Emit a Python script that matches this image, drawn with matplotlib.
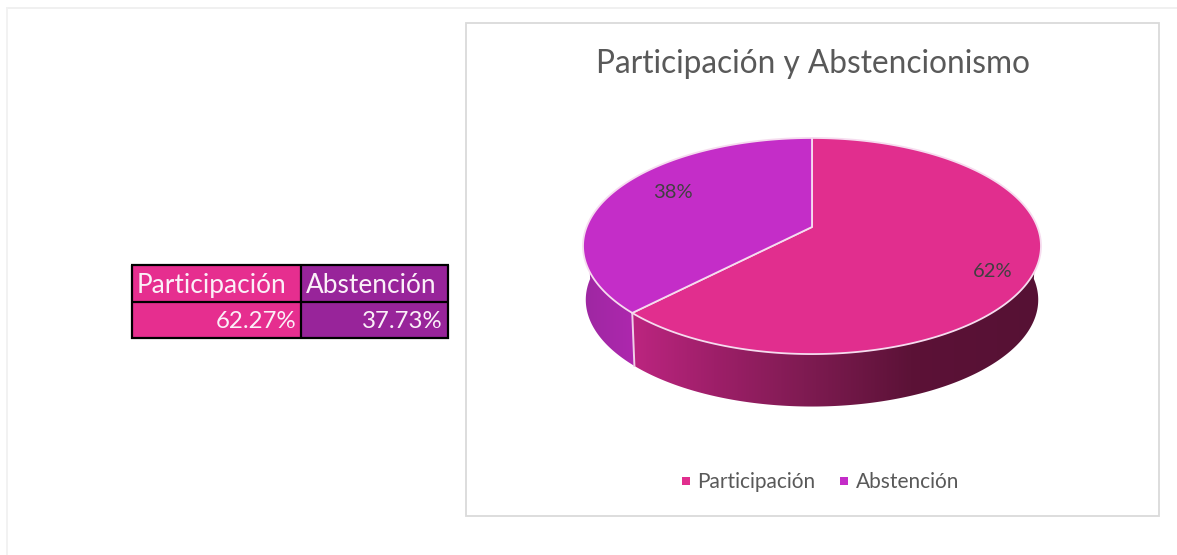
import numpy as np
import matplotlib
matplotlib.use("Agg")
import matplotlib.pyplot as plt
from matplotlib.colors import LinearSegmentedColormap
from matplotlib.patches import Polygon, Rectangle

categories = ["Participación", "Abstención"]
values = [62.27, 37.73]
title = "Participación y Abstencionismo"
pie_colors = ["#E12E8E", "#C42DC8"]
table_colors = ["#E62E8F", "#98249A"]

plt.rcParams["font.family"] = ["Lato", "DejaVu Sans"]
fig = plt.figure(figsize=(11.77, 5.55), dpi=100)
ax = fig.add_axes([0, 0, 1, 1])
ax.set_xlim(0, 1177)
ax.set_ylim(555, 0)
ax.axis("off")

# page and chart frames
ax.plot([7, 1177], [8, 8], color="#F0F0F0", lw=1.4)
ax.plot([7, 7], [8, 555], color="#F2F2F2", lw=1.4)
ax.add_patch(Rectangle((465.5, 22.5), 693, 493, fc="white", ec="#DADADA", lw=1.3))
ax.text(813.5, 64, title, ha="center", va="center", fontsize=22.8, color="#595959")

# perspective pie
CX, CY, A, B, K = 812.0, 227.0, 225.4, 104.7, 0.176
DEPTH, SHRINK = 54.0, 0.988


def top(theta):
    u, v = np.sin(theta), np.cos(theta)
    w = 1 + K * v
    return CX + A * u / w, CY - B * v / w


def bottom(theta):
    x, y = top(theta)
    return CX + (x - CX) * SHRINK, CY + DEPTH + (y - CY) * SHRINK


fractions = np.array(values) / sum(values)
edges = np.concatenate([[0], np.cumsum(fractions)]) * 2 * np.pi

# side walls
front = np.linspace(np.pi / 2 - 0.02, edges[1], 300)
xt, yt = top(front)
xb, yb = bottom(front)
wall = Polygon(np.r_[np.c_[xt, yt], np.c_[xb, yb][::-1]], closed=True, fc="none", ec="none")
ax.add_patch(wall)
pink_cmap = LinearSegmentedColormap.from_list(
    "wall", [(0, "#BC2580"), (0.2, "#9E1F69"), (0.42, "#7F1B52"),
             (0.68, "#5C1237"), (1, "#561134")])
im = ax.imshow(np.linspace(0, 1, 256)[None, :], cmap=pink_cmap, aspect="auto",
               extent=[632, 1042, 420, 230], zorder=1)
im.set_clip_path(wall)

left = np.linspace(edges[1], 3 * np.pi / 2 + 0.02, 120)
xt, yt = top(left)
xb, yb = bottom(left)
wall2 = Polygon(np.r_[np.c_[xt, yt], np.c_[xb, yb][::-1]], closed=True, fc="none", ec="none")
ax.add_patch(wall2)
purple_cmap = LinearSegmentedColormap.from_list("wall2", ["#9E27A2", "#AE28AE"])
im2 = ax.imshow(np.linspace(0, 1, 64)[None, :], cmap=purple_cmap, aspect="auto",
                extent=[584, 636, 420, 230], zorder=1)
im2.set_clip_path(wall2)

# wall seam
sx0, sy0 = top(edges[1])
sx1, sy1 = bottom(edges[1])
ax.plot([sx0, sx1], [sy0, sy1], color="#F0D0E8", lw=1.4, zorder=2)

# top face
for i, color in enumerate(pie_colors):
    th = np.linspace(edges[i], edges[i + 1], 300)
    x, y = top(th)
    ax.add_patch(Polygon(np.r_[[[CX, CY]], np.c_[x, y]], closed=True, fc=color,
                         ec="#F6DCEF", lw=1.3, joinstyle="round", zorder=3))

label_pos = [(993, 271.5), (672.5, 192.5)]
for (lx, ly), v in zip(label_pos, values):
    ax.text(lx, ly, f"{v:.0f}%", ha="center", va="center", fontsize=14.5,
            color="#404040", zorder=4)

# legend
for mx, tx, cat, color in zip([686, 843.5], [697, 856], categories, pie_colors):
    ax.add_patch(Rectangle((mx - 4, 477), 8, 8, fc=color, ec="none"))
    ax.text(tx, 482, cat, ha="left", va="center", fontsize=15, color="#595959")

# table
tx = [132, 301, 448]
ty = [265, 302, 338]
for i, (cat, v, color) in enumerate(zip(categories, values, table_colors)):
    ax.add_patch(Rectangle((tx[i], ty[0]), tx[i + 1] - tx[i], ty[2] - ty[0], fc=color, ec="none"))
    ax.text(tx[i] + 5, 285.5, cat, ha="left", va="center", fontsize=18.9, color="#FBF0F8")
    ax.text(tx[i + 1] - 5, 322, f"{v:.2f}%", ha="right", va="center", fontsize=17.3, color="#FBF0F8")
for yy in ty:
    ax.plot([tx[0] - 1, tx[2] + 1], [yy, yy], color="black", lw=1.6, solid_capstyle="butt")
for xx in tx:
    ax.plot([xx, xx], [ty[0], ty[2] + 1], color="black", lw=1.6, solid_capstyle="butt")

fig.savefig("out.png", dpi=100, facecolor="white")
